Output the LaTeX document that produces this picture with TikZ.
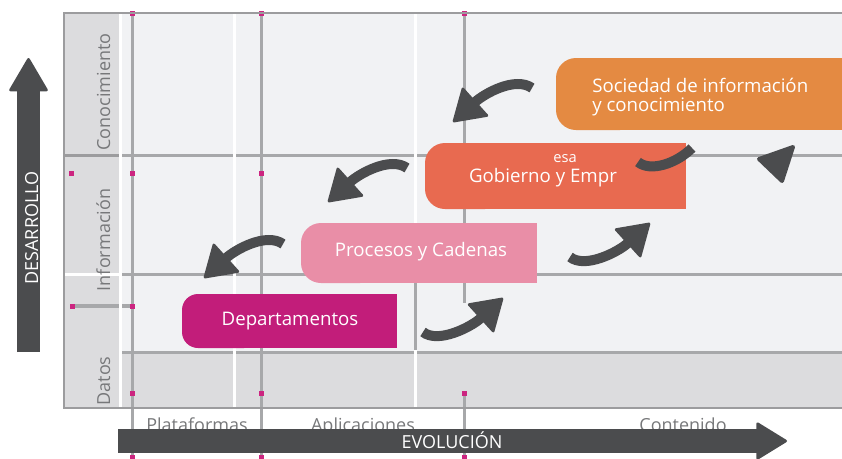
\documentclass[tikz,border=0pt]{standalone}
\usepackage{fontspec}
\setmainfont{Open Sans}
\usetikzlibrary{arrows.meta}
\definecolor{panelgray}{HTML}{F1F2F4}
\definecolor{bandgray}{HTML}{DCDCDE}
\definecolor{linegray}{HTML}{A7A8AA}
\definecolor{framegray}{HTML}{9C9C9E}
\definecolor{tickpink}{HTML}{CC2580}
\definecolor{arrowgray}{HTML}{4B4C4E}
\definecolor{labelgray}{HTML}{77787A}
\definecolor{deptcolor}{HTML}{C21D7A}
\definecolor{proccolor}{HTML}{E98EA7}
\definecolor{govcolor}{HTML}{E86A50}
\definecolor{soccolor}{HTML}{E48A42}
\begin{document}
\begin{tikzpicture}[x=0.75pt,y=-0.75pt,
    gridline/.style={linegray,line width=2.25pt},
    whiteline/.style={white,line width=2.25pt},
    rowlabel/.style={text=labelgray,font=\fontsize{13.5}{16}\selectfont,inner sep=0pt,anchor=base,rotate=90},
    collabel/.style={text=labelgray,font=\fontsize{13.5}{16}\selectfont,inner sep=0pt,anchor=base},
    stagetext/.style={text=white,font=\fontsize{14}{14.25}\selectfont,inner sep=0pt},
    curl/.style={arrowgray,line width=7.5pt,-{Triangle[length=24pt,width=30pt,round,line width=2pt]}},
    axistext/.style={text=white,font=\fontsize{13.5}{16}\selectfont,inner sep=0pt,anchor=base}]
    \useasboundingbox (0,0) rectangle (842,458);

    % panel
    \fill[panelgray] (63,12) rectangle (850,408);
    \fill[bandgray] (63,12) rectangle (120,408);
    \fill[bandgray] (120,352) rectangle (850,408);

    % rows
    \draw[framegray,line width=2.25pt] (65,155) -- (119,155);
    \draw[gridline] (120,155) -- (850,155);
    \draw[whiteline] (63,274) -- (120,274);
    \draw[gridline] (120,274) -- (850,274);
    \draw[gridline] (120,352) -- (850,352);
    \draw[gridline,line width=3pt] (72,306) -- (132,306);

    % columns
    \foreach \x in {120,234,415}
        \draw[whiteline] (\x,12) -- (\x,408);
    \draw[gridline] (415,283) -- (415,350);
    \draw[gridline] (132,12) -- (132,458);
    \draw[gridline] (261,12) -- (261,458);
    \draw[gridline] (464,12) -- (464,303);
    \draw[gridline] (464,393) -- (464,458);

    \foreach \x/\y in {132/13,261/13,464/13,71/173,132/173,261/173,72/306,132/306,132/393,261/393,464/393,132/457,261/457,464/457}
        \fill[tickpink] (\x-2.5,\y-2.5) rectangle (\x+2.5,\y+2.5);

    \draw[framegray,line width=1.5pt] (850,12.5) -- (63.5,12.5) -- (63.5,407.5) -- (850,407.5);

    \node[rowlabel] (know) at (110,92) {Conocimiento};
    \node[rowlabel] (info) at (110,240) {Información};
    \node[rowlabel] (data) at (110,381) {Datos};

    \node[collabel] (plat) at (197,431) {Plataformas};
    \node[collabel] (apps) at (363,431) {Aplicaciones};
    \node[collabel] (cont) at (683,431) {Contenido};

    % stages
    \fill[deptcolor,rounded corners=12pt] (260,294) -- (182,294) -- (182,348) -- (260,348) -- cycle;
    \fill[deptcolor] (220,294) rectangle (397,348);
    \node[stagetext] (dept) at (290,321) {Departamentos};

    \fill[proccolor,rounded corners=15pt] (380,223) -- (301,223) -- (301,283) -- (380,283) -- cycle;
    \fill[proccolor] (340,223) rectangle (537,283);
    \node[stagetext] (proc) at (421,252) {Procesos y Cadenas};

    \fill[govcolor,rounded corners=15pt] (505,143) -- (425,143) -- (425,209) -- (505,209) -- cycle;
    \fill[govcolor] (465,143) rectangle (686,209);
    \node[stagetext,font=\fontsize{11}{12}\selectfont,anchor=base] (govend) at (565,162) {esa};
    \node[stagetext,anchor=base] (gov) at (543,182) {Gobierno y Empr};

    \fill[soccolor,rounded corners=15pt] (640,58) -- (556,58) -- (556,130) -- (640,130) -- cycle;
    \fill[soccolor] (600,58) rectangle (850,130);
    \node[stagetext,align=left,anchor=west] (soc) at (592,97) {Sociedad de información\\y conocimiento};

    % curls
    \coordinate (s1) at (532,88);  \coordinate (e1) at (453,122);
    \coordinate (s2) at (407,168); \coordinate (e2) at (328,202);
    \coordinate (s3) at (283,244); \coordinate (e3) at (204,278);
    \draw[curl] (s1) .. controls +(-17,-12) and +(31,-28) .. (e1);
    \draw[curl] (s2) .. controls +(-17,-12) and +(31,-28) .. (e2);
    \draw[curl] (s3) .. controls +(-17,-12) and +(31,-28) .. (e3);

    \coordinate (s4) at (423,332); \coordinate (e4) at (503,298);
    \coordinate (s5) at (570,257); \coordinate (e5) at (650,223);
    \draw[curl] (s4) .. controls +(15,12) and +(-32,29) .. (e4);
    \draw[curl] (s5) .. controls +(15,12) and +(-32,29) .. (e5);

    \coordinate (s6) at (638,162); \coordinate (e6) at (692,148);
    \draw[arrowgray,line width=7.5pt] (s6) .. controls +(12,10) and +(-16,16) .. (e6);
    \filldraw[arrowgray,line width=3pt,line join=round] (759,159) -- (793,147) -- (782,181) -- cycle;

    % axes
    \coordinate (devlo) at (28.5,352); \coordinate (devhi) at (28.5,58);
    \draw[arrowgray,line width=17.25pt,-{Triangle[length=26pt,width=30pt,round,line width=2pt]}] (devlo) -- (devhi);
    \node[axistext,rotate=90] (dev) at (38,228) {DESARROLLO};

    \coordinate (evolo) at (118,441); \coordinate (evohi) at (787,441);
    \draw[arrowgray,line width=18pt,-{Triangle[length=24pt,width=29pt,round,line width=2pt]}] (evolo) -- (evohi);
    \node[axistext] (evo) at (452,448) {EVOLUCIÓN};
\end{tikzpicture}
\end{document}
